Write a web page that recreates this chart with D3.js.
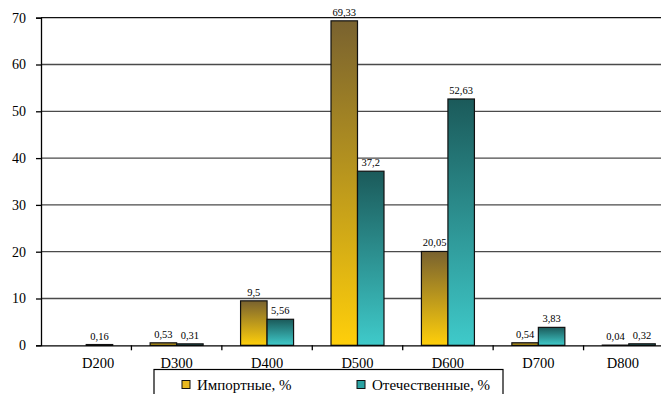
<!DOCTYPE html>
<html>
<head>
<meta charset="utf-8">
<script src="https://cdn.jsdelivr.net/npm/d3@7"></script>
<style>
  html, body { margin: 0; padding: 0; background: #fff; }
  svg text { font-family: "Liberation Serif", "Times New Roman", Times, "DejaVu Serif", serif !important; }
</style>
</head>
<body>
<svg id="chart" width="661" height="394"></svg>
<script>
// Pipe diameter classes and their shares, %
const categories = ["D200", "D300", "D400", "D500", "D600", "D700", "D800"];
const importedShare = [null, 0.53, 9.5, 69.33, 20.05, 0.54, 0.04];
const domesticShare = [0.16, 0.31, 5.56, 37.2, 52.63, 3.83, 0.32];
const yTickValues = [0, 10, 20, 30, 40, 50, 60, 70];
const seriesNames = ["Импортные, %", "Отечественные, %"];

const svg = d3.select("#chart");
const plot = { left: 41, right: 674, top: 17.7, bottom: 345.3 };

const defs = svg.append("defs");
function gradient(id, top, bottom) {
  const g = defs.append("linearGradient").attr("id", id)
    .attr("x1", 0).attr("y1", 0).attr("x2", 0).attr("y2", 1);
  g.append("stop").attr("offset", "0%").attr("stop-color", top);
  g.append("stop").attr("offset", "100%").attr("stop-color", bottom);
}
gradient("gold", "#79622f", "#ffcf0a");
gradient("teal", "#1b5a5a", "#3fcaca");

const series = [
  { key: "imp", name: seriesNames[0], values: importedShare, fill: "url(#gold)", swatch: "#e8b820" },
  { key: "dom", name: seriesNames[1], values: domesticShare, fill: "url(#teal)", swatch: "#2ba3a3" }
];

const x0 = d3.scaleBand().domain(categories).range([plot.left, plot.right]).padding(0);
const x1 = d3.scaleBand().domain(series.map(s => s.key))
  .range([x0.bandwidth() * 0.207, x0.bandwidth() * 0.793]).padding(0);
const y = d3.scaleLinear().domain([0, 70]).range([plot.bottom, plot.top]);

// horizontal gridlines
svg.append("g").selectAll("line").data(yTickValues.filter(v => v > 0)).join("line")
  .attr("x1", plot.left).attr("x2", plot.right)
  .attr("y1", d => y(d)).attr("y2", d => y(d))
  .attr("stroke", d => d === 70 ? "#111" : "#4a4a4a").attr("stroke-width", 1.3);

// y axis
const yAxis = svg.append("g").attr("transform", `translate(${plot.left},0)`)
  .call(d3.axisLeft(y).tickValues(yTickValues).tickSize(5).tickPadding(10).tickFormat(d3.format("d")));
yAxis.attr("font-family", null);
yAxis.select(".domain").attr("stroke", "#000").attr("stroke-width", 1.3);
yAxis.selectAll(".tick line").attr("stroke", "#000").attr("stroke-width", 1.3);
yAxis.selectAll("text").attr("font-size", 14).attr("fill", "#000");

// bars
const groups = svg.append("g").selectAll("g").data(categories).join("g")
  .attr("transform", d => `translate(${x0(d)},0)`);

series.forEach(s => {
  groups.each(function(cat, i) {
    const v = s.values[i];
    if (v == null) return;
    const g = d3.select(this);
    g.append("rect")
      .attr("x", x1(s.key)).attr("width", x1.bandwidth())
      .attr("y", y(v)).attr("height", Math.max(y(0) - y(v), 0.01))
      .attr("fill", s.fill).attr("stroke", "#111").attr("stroke-width", 1.2);
    g.append("text")
      .attr("x", x1(s.key) + x1.bandwidth() / 2).attr("y", y(v) - 5)
      .attr("text-anchor", "middle").attr("font-size", 10.5).attr("fill", "#000")
      .text(String(v).replace(".", ","));
  });
});

// x axis
const xAxis = svg.append("g").attr("transform", `translate(0,${plot.bottom})`)
  .call(d3.axisBottom(x0).tickSize(0).tickPadding(12));
xAxis.attr("font-family", null);
xAxis.select(".domain").attr("stroke", "#000").attr("stroke-width", 1.3);
xAxis.selectAll("text").attr("font-size", 14.5).attr("fill", "#000")
  .attr("dx", (d, i) => i === 0 ? 12 : (i === categories.length - 1 ? -6 : 0));
svg.append("g").selectAll("line").data(categories.slice(1)).join("line")
  .attr("x1", d => x0(d)).attr("x2", d => x0(d))
  .attr("y1", plot.bottom).attr("y2", plot.bottom + 5)
  .attr("stroke", "#000").attr("stroke-width", 1.3);

// legend
const legend = svg.append("g");
legend.append("rect").attr("x", 154).attr("y", 369.5).attr("width", 349).attr("height", 40)
  .attr("fill", "#fff").attr("stroke", "#000").attr("stroke-width", 1.2);
const legendX = [182, 357];
series.forEach((s, i) => {
  legend.append("rect").attr("x", legendX[i]).attr("y", 380.5).attr("width", 8).attr("height", 8)
    .attr("fill", s.swatch).attr("stroke", "#111").attr("stroke-width", 1);
  legend.append("text").attr("x", legendX[i] + 15).attr("y", 389.5)
    .attr("font-size", 15).attr("fill", "#000").text(s.name);
});
</script>
</body>
</html>
